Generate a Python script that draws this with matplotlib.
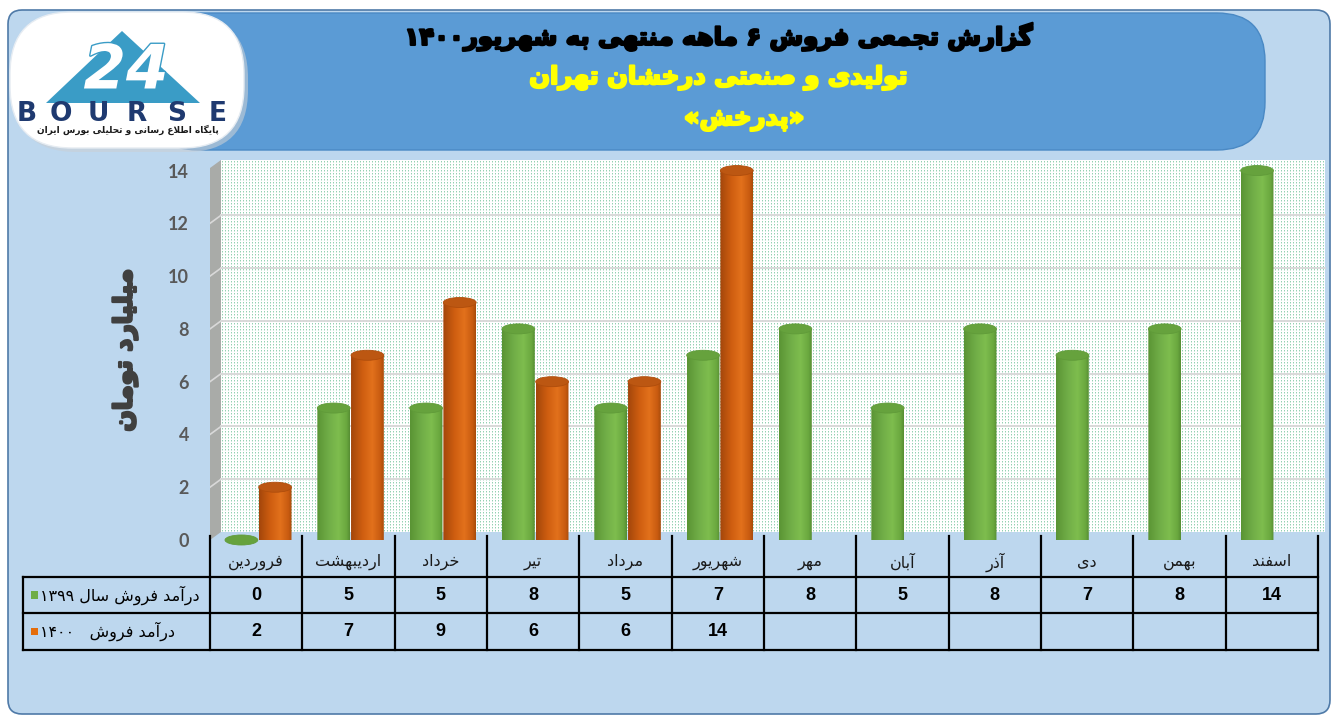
import numpy as np
import matplotlib
matplotlib.use("Agg")
import matplotlib.pyplot as plt
from matplotlib.patches import FancyBboxPatch, Polygon, Ellipse, Rectangle, PathPatch
from matplotlib.path import Path
from matplotlib.colors import LinearSegmentedColormap
import matplotlib.patheffects as pe

# ---------------------------------------------------------------- data
months = ["فروردین", "اردیبهشت", "خرداد", "تیر", "مرداد", "شهریور",
          "مهر", "آبان", "آذر", "دی", "بهمن", "اسفند"]
sales_1399 = [0, 5, 5, 8, 5, 7, 8, 5, 8, 7, 8, 14]
sales_1400 = [2, 7, 9, 6, 6, 14, None, None, None, None, None, None]
series_names = ["درآمد فروش سال ۱۳۹۹", "درآمد فروش   ۱۴۰۰"]
y_ticks = [0, 2, 4, 6, 8, 10, 12, 14]
y_label = "میلیارد تومان"
title_1 = "گزارش تجمعی فروش ۶ ماهه منتهی به شهریور۱۴۰۰"
title_2 = "تولیدی و صنعتی درخشان تهران"
title_3 = "«پدرخش»"
logo_caption = "پایگاه اطلاع رسانی و تحلیلی بورس ایران"

# ---------------------------------------------------------------- Persian shaping
FORMS = {
    'ا': ('\uFE8D', '\uFE8E', None, None),
    'آ': ('\uFE81', '\uFE82', None, None),
    'ب': ('\uFE8F', '\uFE90', '\uFE91', '\uFE92'),
    'پ': ('\uFB56', '\uFB57', '\uFB58', '\uFB59'),
    'ت': ('\uFE95', '\uFE96', '\uFE97', '\uFE98'),
    'ج': ('\uFE9D', '\uFE9E', '\uFE9F', '\uFEA0'),
    'ح': ('\uFEA1', '\uFEA2', '\uFEA3', '\uFEA4'),
    'خ': ('\uFEA5', '\uFEA6', '\uFEA7', '\uFEA8'),
    'د': ('\uFEA9', '\uFEAA', None, None),
    'ذ': ('\uFEAB', '\uFEAC', None, None),
    'ر': ('\uFEAD', '\uFEAE', None, None),
    'ز': ('\uFEAF', '\uFEB0', None, None),
    'س': ('\uFEB1', '\uFEB2', '\uFEB3', '\uFEB4'),
    'ش': ('\uFEB5', '\uFEB6', '\uFEB7', '\uFEB8'),
    'ص': ('\uFEB9', '\uFEBA', '\uFEBB', '\uFEBC'),
    'ط': ('\uFEC1', '\uFEC2', '\uFEC3', '\uFEC4'),
    'ع': ('\uFEC9', '\uFECA', '\uFECB', '\uFECC'),
    'ف': ('\uFED1', '\uFED2', '\uFED3', '\uFED4'),
    'گ': ('\uFB92', '\uFB93', '\uFB94', '\uFB95'),
    'ل': ('\uFEDD', '\uFEDE', '\uFEDF', '\uFEE0'),
    'م': ('\uFEE1', '\uFEE2', '\uFEE3', '\uFEE4'),
    'ن': ('\uFEE5', '\uFEE6', '\uFEE7', '\uFEE8'),
    'ه': ('\uFEE9', '\uFEEA', '\uFEEB', '\uFEEC'),
    'و': ('\uFEED', '\uFEEE', None, None),
    'ی': ('\uFBFC', '\uFBFD', '\uFBFE', '\uFBFF'),
}
LAM_ALEF = {'ا': ('\uFEFB', '\uFEFC'), 'آ': ('\uFEF5', '\uFEF6')}
MIRROR = {'«': '»', '»': '«', '(': ')', ')': '('}
DIGITS = set('0123456789۰۱۲۳۴۵۶۷۸۹')


def _joins_forward(ch):
    return ch in FORMS and FORMS[ch][2] is not None


def rtl(text):
    """Shape Persian letters and return them in visual (left-to-right) order."""
    shaped = []
    i, n = 0, len(text)
    while i < n:
        ch = text[i]
        prev = text[i - 1] if i > 0 else ''
        after = text[i + 1] if i + 1 < n else ''
        jp = _joins_forward(prev)
        if ch == 'ل' and after in LAM_ALEF:
            shaped.append(LAM_ALEF[after][1 if jp else 0])
            i += 2
            continue
        if ch in FORMS:
            iso, fin, ini, med = FORMS[ch]
            jn = ini is not None and after in FORMS
            if jp and jn:
                shaped.append(med)
            elif jp:
                shaped.append(fin)
            elif jn:
                shaped.append(ini)
            else:
                shaped.append(iso)
        else:
            shaped.append(ch)
        i += 1
    # reverse, keeping digit runs left-to-right
    runs, cur = [], ''
    for ch in shaped:
        if ch in DIGITS:
            cur += ch
        else:
            if cur:
                runs.append(cur)
                cur = ''
            runs.append(MIRROR.get(ch, ch))
    if cur:
        runs.append(cur)
    return ''.join(reversed(runs))


FA = ['DejaVu Sans']
NUM = ['Liberation Sans Narrow', 'Liberation Sans', 'DejaVu Sans']


def heavy(color, w=1.6):
    return [pe.withStroke(linewidth=w, foreground=color)]


# ---------------------------------------------------------------- figure
W, H = 1333, 718
fig = plt.figure(figsize=(W / 100, H / 100), dpi=100)
fig.patch.set_facecolor('white')

# pixel-space canvas for the frame, banner, logo and back wall
bg = fig.add_axes([0, 0, 1, 1], zorder=0)
bg.set_xlim(0, W)
bg.set_ylim(H, 0)
bg.axis('off')

bg.add_patch(FancyBboxPatch((8, 10), 1322, 704, boxstyle="round,pad=0,rounding_size=14",
                            facecolor='#BDD7EE', edgecolor='#4F7AA8', lw=1.2))

# title banner
bg.add_patch(FancyBboxPatch((150, 13), 1115, 137, boxstyle="round,pad=0,rounding_size=48",
                            facecolor='#5B9BD5', edgecolor='#4A89C4', lw=1.0))

# logo
bg.add_patch(FancyBboxPatch((14, 16), 234, 136, boxstyle="round,pad=0,rounding_size=62",
                            facecolor='#C9CFD6', edgecolor='none', alpha=0.6))
bg.add_patch(FancyBboxPatch((10, 12), 234, 136, boxstyle="round,pad=0,rounding_size=62",
                            facecolor='white', edgecolor='#E6ECF2', lw=1.0))
bg.add_patch(Polygon([(46, 103), (122, 31), (200, 103)], closed=True,
                     facecolor='#3A9CC6', edgecolor='none'))
bg.text(126, 72, "24", color='white', fontsize=44, fontweight='bold', fontstyle='italic',
        ha='center', va='center', family='DejaVu Sans',
        path_effects=[pe.withStroke(linewidth=2, foreground='#3A9CC6')])
for letter, lx in zip("BOURSE", [27, 61, 98, 137, 177, 218]):
    bg.text(lx, 114, letter, color='#1F3A70', fontsize=19, fontweight='bold',
            ha='center', va='center', family='DejaVu Sans')
bg.text(128, 130, rtl(logo_caption), color='#1A1A1A', fontsize=6.5, fontweight='bold',
        ha='center', va='center', family=FA)

# titles
bg.text(718, 37, rtl(title_1), color='black', fontsize=17.5, fontweight='bold',
        ha='center', va='center', family=FA, path_effects=heavy('black'))
bg.text(718, 78, rtl(title_2), color='#FFFF00', fontsize=17.5, fontweight='bold',
        ha='center', va='center', family=FA, path_effects=heavy('#FFFF00'))
bg.text(744, 119, rtl(title_3), color='#FFFF00', fontsize=17.5, fontweight='bold',
        ha='center', va='center', family=FA, path_effects=heavy('#FFFF00'))

# dotted back wall
wx0, wx1, wy0, wy1 = 221, 1325, 160, 532
pat = np.ones((wy1 - wy0, wx1 - wx0, 3))
dot = np.array([0.58, 0.82, 0.70])
pat[1::3, 1::3] = dot
pat[2::3, 1::3] = 0.45 * dot + 0.55
bg.imshow(pat, extent=(wx0, wx1, wy1, wy0), interpolation='nearest', aspect='auto', zorder=1)
bg.add_patch(Polygon([(210, 540), (210, 168), (221, 160), (221, 532)], closed=True,
                     facecolor='#A9ABA8', edgecolor='none', zorder=1))
bg.set_xlim(0, W)
bg.set_ylim(H, 0)

# ---------------------------------------------------------------- chart axes
x_left, x_right, y_bot, y_top = 210, 1318, 540, 160
ax = fig.add_axes([x_left / W, (H - y_bot) / H, (x_right - x_left) / W, (y_bot - y_top) / H],
                  zorder=2)
ax.patch.set_alpha(0)
n = len(months)
ax.set_xlim(-0.5, n - 0.5)
ax.set_ylim(0, 14.4)
for s in ax.spines.values():
    s.set_visible(False)
ax.set_xticks([])
ax.set_yticks(y_ticks)
ax.set_yticklabels([str(v) for v in y_ticks], color='#595959', fontsize=13,
                   fontweight='bold', family=['Lato', 'DejaVu Sans'])
ax.tick_params(axis='y', length=0, pad=15)

px_per_x = (x_right - x_left) / n
px_per_y = (y_bot - y_top) / 14.4
depth = 8 / px_per_y
wall_l = (wx0 - x_left) / px_per_x - 0.5
wall_r = (wx1 - x_left) / px_per_x - 0.5
for v in y_ticks[1:-1]:
    ax.plot([wall_l, wall_r], [v + depth, v + depth], color='#D9D9D9', lw=1.4, zorder=1,
            clip_on=False)
    ax.plot([-0.5, wall_l], [v, v + depth], color='#D9D9D9', lw=1.2, zorder=1)

ax.set_ylabel(rtl(y_label), family=FA, fontsize=18, fontweight='bold', color='#404040',
              labelpad=22, path_effects=heavy('#404040', 1.8))

green_cmap = LinearSegmentedColormap.from_list(
    'g', [(0, '#5A9434'), (0.35, '#70AD47'), (0.65, '#7EBD4E'), (0.9, '#6AA83F'), (1, '#568D33')])
orange_cmap = LinearSegmentedColormap.from_list(
    'o', [(0, '#A3460B'), (0.35, '#CF5E10'), (0.65, '#E2711C'), (0.9, '#C85B10'), (1, '#A84C0C')])
grad = np.linspace(0, 1, 128).reshape(1, -1)
bar_w = 0.355
ell_h = 10 / px_per_y


def cylinder(xc, val, cmap, top_color):
    x0, x1 = xc - bar_w / 2, xc + bar_w / 2
    if val > 0:
        theta = np.linspace(np.pi, 2 * np.pi, 40)
        arc = [(xc + bar_w / 2 * np.cos(t), ell_h / 2 * np.sin(t)) for t in theta]
        verts = [(x0, val)] + arc + [(x1, val), (x0, val)]
        clip = PathPatch(Path(verts), transform=ax.transData, facecolor='none', edgecolor='none')
        ax.add_patch(clip)
        im = ax.imshow(grad, cmap=cmap, extent=(x0, x1, -ell_h / 2, val),
                       aspect='auto', interpolation='bilinear', zorder=3)
        im.set_clip_path(clip)
    ax.add_patch(Ellipse((xc, val), bar_w, ell_h, facecolor=top_color,
                         edgecolor=cmap(0.1), lw=0.6, zorder=4, clip_on=False))


for i in range(n):
    cylinder(i - 0.16, sales_1399[i], green_cmap, '#66A23D')
    if sales_1400[i] is not None:
        cylinder(i + 0.205, sales_1400[i], orange_cmap, '#BC5712')

ax.set_xlim(-0.5, n - 0.5)
ax.set_ylim(0, 14.4)

# ---------------------------------------------------------------- data table
t_bot = 650
tab = fig.add_axes([x_left / W, (H - t_bot) / H, (x_right - x_left) / W, (t_bot - y_bot) / H],
                   zorder=2)
tab.patch.set_alpha(0)
tab.set_xlim(-0.5, n - 0.5)
tab.set_ylim(3, 0)
tab.axis('off')
hdr_x0 = (23 - x_left) / px_per_x - 0.5
kw = dict(color='black', lw=1.6, clip_on=False, solid_capstyle='projecting')
for r in (1, 2, 3):
    tab.plot([hdr_x0, n - 0.5], [r, r], **kw)
for k in range(n + 1):
    tab.plot([k - 0.5, k - 0.5], [-0.12, 3], **kw)
tab.plot([hdr_x0, hdr_x0], [1, 3], **kw)

for i, m in enumerate(months):
    tab.text(i, 0.6, rtl(m), ha='center', va='center', fontsize=11.5, color='#1A1A1A', family=FA)
    tab.text(i, 1.5, str(sales_1399[i]), ha='center', va='center', fontsize=13,
             fontweight='bold', color='black', family=NUM)
    if sales_1400[i] is not None:
        tab.text(i, 2.5, str(sales_1400[i]), ha='center', va='center', fontsize=13,
                 fontweight='bold', color='black', family=NUM)

sq = 7 / px_per_x
for r, (name, col) in enumerate(zip(series_names, ['#70AD47', '#E46C0A'])):
    sx = (31 - x_left) / px_per_x - 0.5
    tab.add_patch(Rectangle((sx, 1.5 + r - 0.1), sq, 0.2, facecolor=col, edgecolor='none',
                            clip_on=False))
    tab.text((40 - x_left) / px_per_x - 0.5, 1.5 + r, rtl(name), ha='left', va='center',
             fontsize=11.5, color='black', family=FA, clip_on=False)

fig.savefig('out.png', dpi=100, facecolor=fig.get_facecolor())
